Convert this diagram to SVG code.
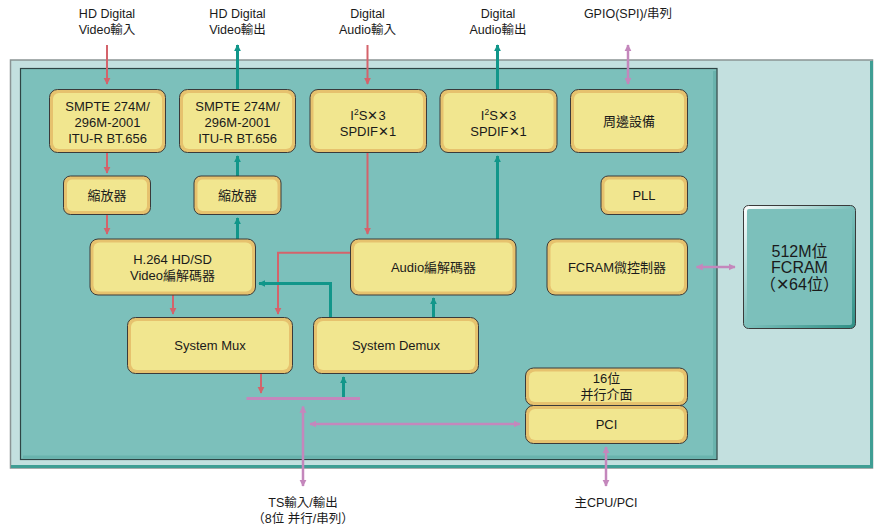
<svg xmlns="http://www.w3.org/2000/svg" width="878" height="527" viewBox="0 0 878 527">
<defs>
<style>
text{font-family:"Liberation Sans","Noto Sans CJK TC",sans-serif;fill:#1a1a1a;text-anchor:middle}
.lbl{font-size:12.5px}
.bx{font-size:13px}
.big{font-size:16px}
.ob{fill:#e6c26e;stroke:#3a3a3a;stroke-width:1}
.ib{fill:#f1e68f}
.red{stroke:#d4636b;stroke-width:2;fill:none}
.teal{stroke:#11968a;stroke-width:3;fill:none}
.pink{stroke:#c487bc;stroke-width:2.5;fill:none}
</style>
<marker id="ar" viewBox="0 0 10 10" refX="9" refY="5" markerWidth="7" markerHeight="8" markerUnits="userSpaceOnUse" orient="auto"><path d="M0,0 L10,5 L0,10 z" fill="#d4636b"/></marker>
<marker id="at" viewBox="0 0 10 10" refX="9" refY="5" markerWidth="7" markerHeight="9" markerUnits="userSpaceOnUse" orient="auto"><path d="M0,0 L10,5 L0,10 z" fill="#11968a"/></marker>
<marker id="ap" viewBox="0 0 10 10" refX="9" refY="5" markerWidth="7" markerHeight="9" markerUnits="userSpaceOnUse" orient="auto-start-reverse"><path d="M0,0 L10,5 L0,10 z" fill="#c487bc"/></marker>
<linearGradient id="mem" x1="0" y1="0" x2="1" y2="1"><stop offset="0" stop-color="#ffffff"/><stop offset="0.5" stop-color="#7cc0bb"/><stop offset="1" stop-color="#2f8f85"/></linearGradient>
</defs>

<g id="frame">
<rect x="10.5" y="60" width="862" height="408" fill="#c3e0df" stroke="#8a9494" stroke-width="1.5"/>
<path d="M11,466.5 H871.5 V61" fill="none" stroke="#3f9e94" stroke-width="3"/>
<rect x="20.5" y="68.5" width="696.5" height="391" fill="#7cc0bb" stroke="#2e4444" stroke-width="1.2"/>
<path d="M23,457 H714.5 V71" fill="none" stroke="#69b3ad" stroke-width="3"/>
</g>

<g id="connectors">
<line class="red" x1="107" y1="45" x2="107" y2="84" marker-end="url(#ar)"/>
<line class="teal" x1="237.5" y1="89" x2="237.5" y2="45" marker-end="url(#at)"/>
<line class="red" x1="367.5" y1="45" x2="367.5" y2="84" marker-end="url(#ar)"/>
<line class="teal" x1="497.5" y1="89" x2="497.5" y2="45" marker-end="url(#at)"/>
<line class="pink" x1="628" y1="45" x2="628" y2="84" marker-start="url(#ap)" marker-end="url(#ap)"/>
<line class="red" x1="107" y1="152.5" x2="107" y2="173" marker-end="url(#ar)"/>
<line class="red" x1="107" y1="214.5" x2="107" y2="234" marker-end="url(#ar)"/>
<line class="teal" x1="237.5" y1="176" x2="237.5" y2="156" marker-end="url(#at)"/>
<line class="teal" x1="237.5" y1="239" x2="237.5" y2="218" marker-end="url(#at)"/>
<line class="red" x1="367.5" y1="152.5" x2="367.5" y2="234" marker-end="url(#ar)"/>
<line class="teal" x1="497.5" y1="239" x2="497.5" y2="156" marker-end="url(#at)"/>
<line class="red" x1="173" y1="295" x2="173" y2="314" marker-end="url(#ar)"/>
<polyline class="red" points="350.5,252.7 278,252.7 278,314" marker-end="url(#ar)"/>
<polyline class="teal" points="330.5,317.5 330.5,283.5 259,283.5" marker-end="url(#at)"/>
<line class="teal" x1="433.5" y1="317.5" x2="433.5" y2="298" marker-end="url(#at)"/>
<line class="red" x1="261" y1="373.5" x2="261" y2="393" marker-end="url(#ar)"/>
<line x1="246.5" y1="398.5" x2="360" y2="398.5" stroke="#c487bc" stroke-width="3"/>
<line class="teal" x1="343.5" y1="397" x2="343.5" y2="377" marker-end="url(#at)"/>
<line class="pink" x1="303" y1="406.5" x2="303" y2="486" marker-start="url(#ap)" marker-end="url(#ap)"/>
<line class="pink" x1="310" y1="424" x2="520" y2="424" marker-start="url(#ap)" marker-end="url(#ap)"/>
<line class="pink" x1="606" y1="447" x2="606" y2="486" marker-start="url(#ap)" marker-end="url(#ap)"/>
<line class="pink" x1="696.5" y1="267" x2="735" y2="267" marker-start="url(#ap)" marker-end="url(#ap)"/>
</g>

<g id="labels">
<text class="lbl" x="107" y="17.5">HD Digital</text>
<text class="lbl" x="107" y="34">Video輸入</text>
<text class="lbl" x="237.5" y="17.5">HD Digital</text>
<text class="lbl" x="237.5" y="34">Video輸出</text>
<text class="lbl" x="367.5" y="17.5">Digital</text>
<text class="lbl" x="367.5" y="34">Audio輸入</text>
<text class="lbl" x="498" y="17.5">Digital</text>
<text class="lbl" x="498" y="34">Audio輸出</text>
<text class="lbl" x="628" y="17.5">GPIO(SPI)/串列</text>
<text class="lbl" x="303" y="507">TS輸入/輸出</text>
<text class="lbl" x="303" y="522.5">（8位 并行/串列）</text>
<text class="lbl" x="606" y="507">主CPU/PCI</text>
</g>

<g id="smpte-in">
<rect class="ob" x="49.5" y="89.5" width="116" height="63" rx="8"/>
<rect class="ib" x="53" y="93" width="109" height="56" rx="6"/>
<text class="bx" x="107.5" y="111">SMPTE 274M/</text>
<text class="bx" x="107.5" y="127">296M-2001</text>
<text class="bx" x="107.5" y="143">ITU-R BT.656</text>
</g>
<g id="smpte-out">
<rect class="ob" x="179.5" y="89.5" width="116" height="63" rx="8"/>
<rect class="ib" x="183" y="93" width="109" height="56" rx="6"/>
<text class="bx" x="237.5" y="111">SMPTE 274M/</text>
<text class="bx" x="237.5" y="127">296M-2001</text>
<text class="bx" x="237.5" y="143">ITU-R BT.656</text>
</g>
<g id="i2s-in">
<rect class="ob" x="310" y="89.5" width="116.5" height="63" rx="8"/>
<rect class="ib" x="313.5" y="93" width="109.5" height="56" rx="6"/>
<text class="bx" x="368" y="120">I<tspan font-size="8.5" baseline-shift="5">2</tspan>S✕3</text>
<text class="bx" x="368" y="136">SPDIF✕1</text>
</g>
<g id="i2s-out">
<rect class="ob" x="440" y="89.5" width="117" height="63" rx="8"/>
<rect class="ib" x="443.5" y="93" width="110" height="56" rx="6"/>
<text class="bx" x="498.5" y="120">I<tspan font-size="8.5" baseline-shift="5">2</tspan>S✕3</text>
<text class="bx" x="498.5" y="136">SPDIF✕1</text>
</g>
<g id="peripheral">
<rect class="ob" x="570.5" y="89.5" width="117" height="63" rx="8"/>
<rect class="ib" x="574" y="93" width="110" height="56" rx="6"/>
<text class="bx" x="629" y="126">周邊設備</text>
</g>
<g id="scaler-in">
<rect class="ob" x="63.5" y="176" width="87" height="38.5" rx="7"/>
<rect class="ib" x="67" y="179.5" width="80" height="31.5" rx="5"/>
<text class="bx" x="107" y="200">縮放器</text>
</g>
<g id="scaler-out">
<rect class="ob" x="194" y="176" width="87" height="38.5" rx="7"/>
<rect class="ib" x="197.5" y="179.5" width="80" height="31.5" rx="5"/>
<text class="bx" x="237.5" y="200">縮放器</text>
</g>
<g id="pll">
<rect class="ob" x="601" y="176" width="86.5" height="38.5" rx="7"/>
<rect class="ib" x="604.5" y="179.5" width="79.5" height="31.5" rx="5"/>
<text class="bx" x="644" y="200">PLL</text>
</g>
<g id="video-codec">
<rect class="ob" x="90" y="239" width="165.5" height="56" rx="8"/>
<rect class="ib" x="93.5" y="242.5" width="158.5" height="49" rx="6"/>
<text class="bx" x="172.5" y="263.5">H.264 HD/SD</text>
<text class="bx" x="172.5" y="279.5">Video編解碼器</text>
</g>
<g id="audio-codec">
<rect class="ob" x="350.5" y="239" width="165.5" height="56" rx="8"/>
<rect class="ib" x="354" y="242.5" width="158.5" height="49" rx="6"/>
<text class="bx" x="433.5" y="272">Audio編解碼器</text>
</g>
<g id="fcram-ctrl">
<rect class="ob" x="547" y="239" width="140.5" height="56" rx="8"/>
<rect class="ib" x="550.5" y="242.5" width="133.5" height="49" rx="6"/>
<text class="bx" x="617" y="272">FCRAM微控制器</text>
</g>
<g id="system-mux">
<rect class="ob" x="127.5" y="317.5" width="165" height="56" rx="8"/>
<rect class="ib" x="131" y="321" width="158" height="49" rx="6"/>
<text class="bx" x="210" y="350">System Mux</text>
</g>
<g id="system-demux">
<rect class="ob" x="313.5" y="317.5" width="165" height="56" rx="8"/>
<rect class="ib" x="317" y="321" width="158" height="49" rx="6"/>
<text class="bx" x="396" y="350">System Demux</text>
</g>
<g id="parallel-if">
<rect class="ob" x="525.5" y="368" width="162" height="37.5" rx="8"/>
<rect class="ib" x="529" y="371.5" width="155" height="30.5" rx="6"/>
<text class="bx" x="606.5" y="383">16位</text>
<text class="bx" x="606.5" y="398.5">并行介面</text>
</g>
<g id="pci">
<rect class="ob" x="525.5" y="405.5" width="162" height="38" rx="8"/>
<rect class="ib" x="529" y="409" width="155" height="31" rx="6"/>
<text class="bx" x="606.5" y="428.5">PCI</text>
</g>
<g id="fcram-mem">
<rect x="743.5" y="205.5" width="112" height="123" rx="5" fill="url(#mem)" stroke="#3a3a3a" stroke-width="1"/>
<rect x="747" y="209" width="105" height="116" rx="2" fill="#7cc0bb"/>
<text class="big" x="799.5" y="256.5">512M位</text>
<text class="big" x="799.5" y="273">FCRAM</text>
<text class="big" x="799.5" y="289.5">（✕64位）</text>
</g>
</svg>
